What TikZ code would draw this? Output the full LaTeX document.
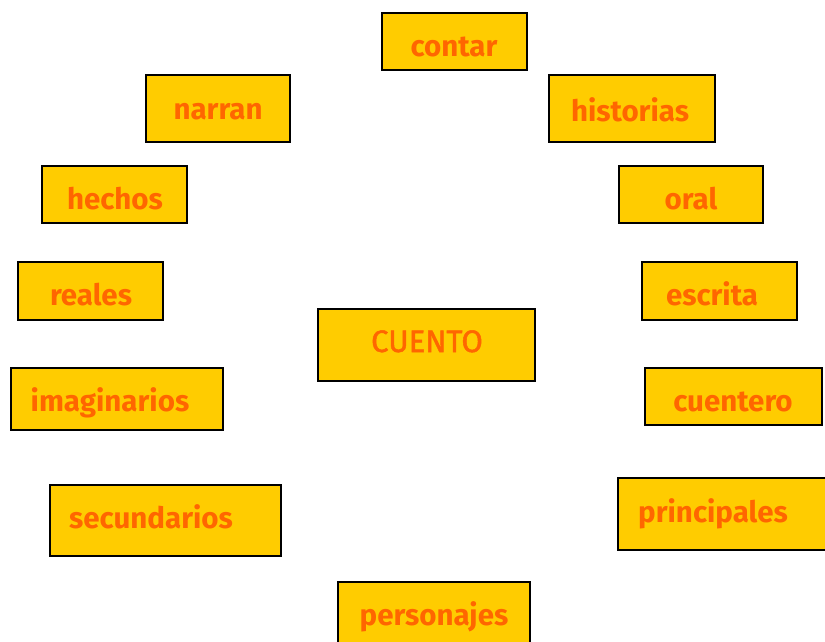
\documentclass[tikz,border=0pt]{standalone}
\usepackage{fontspec}
\setmainfont{Fira Sans}
\newfontfamily\cuentofont[FakeBold=1.6]{Fira Sans}
\definecolor{boxfill}{HTML}{FFCC00}
\definecolor{txtcol}{HTML}{FF6600}
\begin{document}
\begin{tikzpicture}[x=1pt,y=-1pt,
  box/.style={draw=black,fill=boxfill,line width=1.6pt,inner sep=0pt},
  word/.style={text=txtcol,font=\bfseries\fontsize{29.5}{34}\selectfont,anchor=base,inner sep=0pt},
  title/.style={text=txtcol,font=\cuentofont\fontsize{31}{36}\selectfont,anchor=base,inner sep=0pt}]
\useasboundingbox (0,0) rectangle (825,641);
\clip (0,0) rectangle (825,641);
% boxes
\node[box,minimum width=145,minimum height=57] (bcontar) at (454.5,41.5) {};
\node[box,minimum width=144,minimum height=67] (bnarran) at (218,108.5) {};
\node[box,minimum width=166,minimum height=67] (bhistorias) at (632,108.5) {};
\node[box,minimum width=145,minimum height=57] (bhechos) at (114.5,194.5) {};
\node[box,minimum width=144,minimum height=57] (boral) at (691,194.5) {};
\node[box,minimum width=145,minimum height=58] (breales) at (90.5,291) {};
\node[box,minimum width=155,minimum height=58] (bescrita) at (719.5,291) {};
\node[box,minimum width=217,minimum height=72] (bcuento) at (426.5,345) {};
\node[box,minimum width=212,minimum height=62] (bimaginarios) at (117,399) {};
\node[box,minimum width=177,minimum height=57] (bcuentero) at (733.5,396.5) {};
\node[box,minimum width=231,minimum height=71] (bsecundarios) at (165.5,520.5) {};
\node[box,minimum width=212,minimum height=72] (bprincipales) at (724,514) {};
\node[box,minimum width=192,minimum height=68] (bpersonajes) at (434,616) {};
% texts
\node[word] (tcontar) at (454,56) {contar};
\node[word] (tnarran) at (218,119) {narran};
\node[word] (thistorias) at (630,121) {historias};
\node[word] (thechos) at (115,209) {hechos};
\node[word] (toral) at (691,209) {oral};
\node[word] (treales) at (91,305) {reales};
\node[word] (tescrita) at (712,305) {escrita};
\node[title] (tcuento) at (427,352) {CUENTO};
\node[word] (timaginarios) at (110,411) {imaginarios};
\node[word] (tcuentero) at (733,411) {cuentero};
\node[word] (tsecundarios) at (151,528) {secundarios};
\node[word] (tprincipales) at (713,522) {principales};
\node[word] (tpersonajes) at (434,625) {personajes};
\end{tikzpicture}
\end{document}
